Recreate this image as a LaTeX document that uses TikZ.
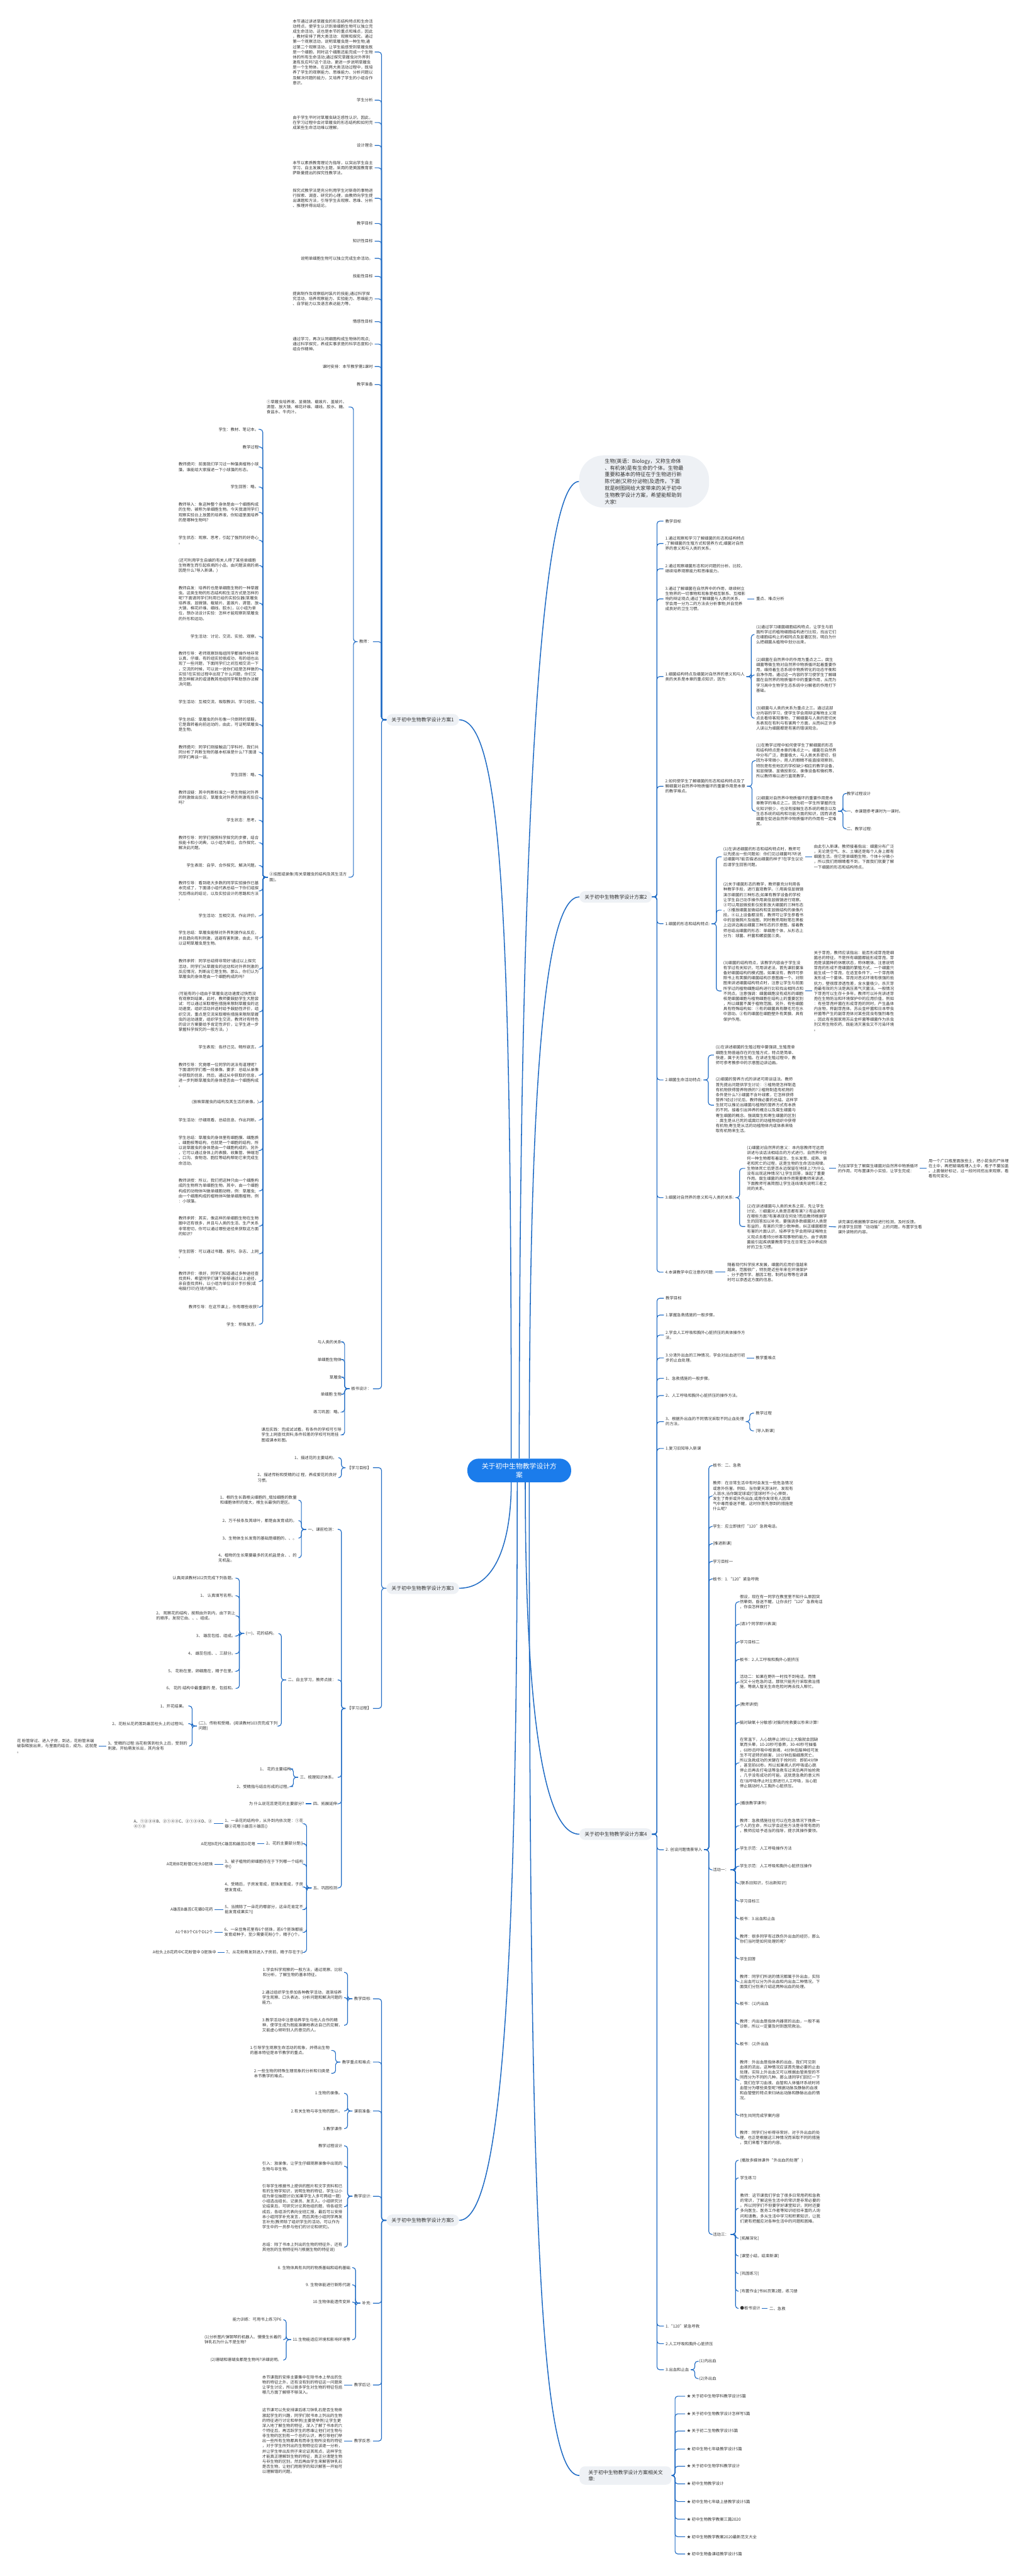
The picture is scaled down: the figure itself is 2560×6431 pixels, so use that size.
\documentclass[tikz,border=0pt]{standalone}
\usepackage{fontspec}
\setmainfont{Noto Sans CJK SC}
\definecolor{ink}{HTML}{333333}
\definecolor{linkblue}{HTML}{1F6BC4}
\definecolor{pill}{HTML}{EEF1F5}
\definecolor{rootblue}{HTML}{1B7CEB}

\begin{document}
\begin{tikzpicture}[x=0.5pt, y=-0.5pt,
  root/.style={rectangle, rounded corners=14pt, fill=rootblue, text=white, align=center,
    font=\fontsize{8.5pt}{10.5pt}\selectfont, minimum width=129.5pt, minimum height=29.5pt},
  intro/.style={rectangle, rounded corners=30pt, fill=pill, text=ink, align=left, anchor=west,
    font=\fontsize{6.4pt}{8.5pt}\selectfont, inner xsep=32pt, inner ysep=4pt},
  branch/.style={rectangle, rounded corners=7pt, fill=pill, text=ink, align=left,
    font=\fontsize{6.2pt}{7.6pt}\selectfont, inner xsep=6.3pt, minimum height=14.5pt},
  note/.style={text=ink, align=left, font=\fontsize{5pt}{6.4pt}\selectfont, inner xsep=2pt, inner ysep=0pt},
  lt/.style={note, anchor=east},
  rt/.style={note, anchor=west},
  link/.style={draw=linkblue, line width=0.9pt, rounded corners=3.5pt},
  trunk/.style={draw=linkblue, line width=1.2pt}
]
\useasboundingbox (0,0) rectangle (2560,6431);

  % Root and intro
  \node[root] (root) at (1296,3671) {关于初中生物教学设计方\\案};
  \node[intro] (intro) at (1445,1202) {生物(英语：Biology，又称生命体\\、有机体)是有生命的个体。生物最\\重要和基本的特征在于生物进行新\\陈代谢(又称分泌物)及遗传。下面\\就是树图网给大家带来的关于初中\\生物教学设计方案，希望能帮助到\\大家!};

  % Branches
  \node[branch, anchor=east] (b1) at (1146,1797) {关于初中生物教学设计方案1};
  \node[branch, anchor=west] (b2) at (1446,2239) {关于初中生物教学设计方案2};
  \node[branch, anchor=east] (b3) at (1146,3965) {关于初中生物教学设计方案3};
  \node[branch, anchor=west] (b4) at (1446,4579) {关于初中生物教学设计方案4};
  \node[branch, anchor=east] (b5) at (1146,5543) {关于初中生物教学设计方案5};
  \node[branch, anchor=west, inner xsep=11pt, minimum height=23pt] (b6) at (1446,6180) {关于初中生物教学设计方案相关文\\章:};

  % Branch 1
  \node[lt] (a1) at (935,130) {本节通过讲述草履虫的形态结构特点和生命活\\动特点，使学生认识到单细胞生物可以独立完\\成生命活动，这也是本节的重点和难点，因此\\，教材安排了两大类活动：观察和探究。通过\\第一个观察活动，说明草履虫是一种生物;通\\过第二个观察活动，让学生能感受到草履虫既\\是一个细胞，同时这个细胞还能完成一个生物\\体的所有生命活动;通过探究草履虫对外界刺\\激有反应吗?这个活动，更进一步说明草履虫\\是一个生物体。在这两大类活动过程中，既培\\养了学生的观察能力、思维能力、分析问题以\\及解决问题的能力，又培养了学生的小组合作\\意识。};
  \node[lt] (a2) at (935,250) {学生分析};
  \node[lt] (a3) at (935,306) {由于学生平时对草履虫缺乏感性认识，因此，\\在学习过程中会对草履虫的形态结构和如何完\\成某些生命活动难以理解。};
  \node[lt] (a4) at (935,363) {设计理念};
  \node[lt] (a5) at (935,419) {本节以素质教育理论为指导，以突出学生自主\\学习、自主发展为主题，采用的是美国教育家\\萨斯曼提出的探究性教学法。};
  \node[lt] (a6) at (935,495) {探究式教学法是充分利用学生对新奇的事物进\\行探索、调查、研究的心理，由教师向学生提\\出课题和方法，引导学生去观察、思维、分析\\、推理并得出结论。};
  \node[lt] (a7) at (935,558) {教学目标};
  \node[lt] (a8) at (935,602) {知识性目标};
  \node[lt] (a9) at (935,645) {说明单细胞生物可以独立完成生命活动。};
  \node[lt] (a10) at (935,690) {技能性目标};
  \node[lt] (a11) at (935,746) {提高制作及观察临时装片的技能;通过科学探\\究活动，培养观察能力、实验能力、思维能力\\、自学能力以及语言表达能力等。};
  \node[lt] (a12) at (935,803) {情感性目标};
  \node[lt] (a13) at (935,859) {通过学习，再次认同细胞构成生物体的观点;\\通过科学探究，养成实事求是的科学态度和小\\组合作精神。};
  \node[lt] (a14) at (935,915) {课时安排：本节教学需1课时};
  \node[lt] (a15) at (935,960) {教学准备};
  \node[lt] (a16) at (931,1602) {教师：};
  \node[lt] (a17) at (931,3467) {板书设计：};

  \node[lt] (c1) at (870,1016) {①草履虫培养液、显微镜、载玻片、盖玻片、\\滴管、放大镜、棉花纤维、细线、胶水、糖、\\食盐水、牛肉汁。};
  \node[lt] (c2) at (870,2190) {②挂图或录像(有关草履虫的结构及其生活方\\面)。};

  \node[lt] (d1) at (650,1072) {学生：教材、笔记本。};
  \node[lt] (d2) at (650,1116) {教学过程};
  \node[lt] (d3) at (650,1166) {教师提问：前面我们学习过一种藻类植物小球\\藻，谁能给大家描述一下小球藻的形态。};
  \node[lt] (d4) at (650,1216) {学生回答：略。};
  \node[lt] (d5) at (650,1279) {教师导入：象这种整个身体是由一个细胞构成\\的生物，被称为单细胞生物。今天我请同学们\\观察实验台上放置的培养液，你知道里面培养\\的是哪种生物吗?};
  \node[lt] (d6) at (650,1349) {学生状态：观察、思考，引起了强烈的好奇心\\。};
  \node[lt] (d7) at (650,1412) {(还可利用学生自编的有关人得了某些单细胞\\生物寄生而引起疾病的小品，由问题该病的病\\因是什么?导入新课。)};
  \node[lt] (d8) at (650,1506) {教师启发：培养的也是单细胞生物的一种草履\\虫。这类生物的形态结构和生活方式是怎样的\\呢?下面请同学们利用已给的实验仪器(草履虫\\培养液、显微镜、载玻片、盖玻片、滴管、放\\大镜、棉花纤维、细线、胶水)，以小组为单\\位，想办法设计实验：怎样才能观察到草履虫\\的外形和运动。};
  \node[lt] (d9) at (650,1589) {学生活动：讨论、交流、实验、观察。};
  \node[lt] (d10) at (650,1670) {教师引导：老师观察到每组同学都操作地非常\\认真、仔细，有的组实验很成功，有的组也出\\现了一些问题，下面同学们之间互相交流一下\\，交流的时候，可以说一说你们组是怎样做的\\实验?在实验过程中出现了什么问题，你们又\\是怎样解决的或请教其他组同学帮助想办法解\\决问题。};
  \node[lt] (d11) at (650,1752) {学生活动：互相交流、吸取教训、学习经验。};
  \node[lt] (d12) at (650,1809) {学生总结：草履虫的外形像一只倒转的草鞋，\\它是靠转着向前运动的，由此，可证明草履虫\\是生物。};
  \node[lt] (d13) at (650,1878) {教师提问：同学们刚接触这门学科时，我们共\\同分析了判断生物的基本标准是什么?下面请\\同学们再谈一谈。};
  \node[lt] (d14) at (650,1934) {学生回答：略。};
  \node[lt] (d15) at (650,1991) {教师设疑：其中判断标准之一是生物能对外界\\的刺激做出反应，草履虫对外界的刺激有反应\\吗?};
  \node[lt] (d16) at (650,2048) {学生状态：思考。};
  \node[lt] (d17) at (650,2104) {教师引导：同学们按照科学探究的步骤，结合\\技能卡和小词典，以小组为单位，合作探究、\\解决此问题。};
  \node[lt] (d18) at (650,2161) {学生表现：自学、合作探究、解决问题。};
  \node[lt] (d19) at (650,2224) {教师引导：看到绝大多数的同学实验操作已基\\本完成了，下面请小组代表总结一下你们组探\\究后得出的结论，以及实验设计的思路和方法\\。};
  \node[lt] (d20) at (650,2286) {学生活动：互相交流、作出评价。};
  \node[lt] (d21) at (650,2342) {学生总结：草履虫能够对外界刺激作出反应，\\并且趋向有利刺激，逃避有害刺激，由此，可\\以证明草履虫是生物。};
  \node[lt] (d22) at (650,2419) {教师承转：同学总结得非常好!通过以上探究\\活动，同学们从草履虫的运动和对外界刺激的\\反应情况，判断出它是生物。那么，你们认为\\草履虫的身体是由一个细胞构成的吗?};
  \node[lt] (d23) at (650,2526) {(可能有的小组由于草履虫运动速度过快而没\\有观察到结果，此时，教师要鼓励学生大胆尝\\试：可以通过采取哪些措施来限制草履虫的运\\动速度。组织活动并适时给予鼓励性评价，组\\织交流，重点是交流采取哪些措施来限制草履\\虫的运动速度，组织学生交流，教师对有特色\\的设计方案要给予肯定性评价，让学生进一步\\掌握科学探究的一般方法。)};
  \node[lt] (d24) at (650,2614) {学生表现：各抒己见、畅所欲言。};
  \node[lt] (d25) at (650,2684) {教师引导：究竟哪一位同学的说法有道理呢?\\下面请同学们看一段录像。要求：总结从录像\\中获取的信息，然后，通过从中获取的信息，\\进一步判断草履虫的身体是否由一个细胞构成\\。};
  \node[lt] (d26) at (650,2752) {(放映草履虫的结构及其生活的录像。)};
  \node[lt] (d27) at (650,2796) {学生活动：仔细观看、总结信息、作出判断。};
  \node[lt] (d28) at (650,2872) {学生总结：草履虫的身体里有细胞膜、细胞质\\、细胞核等结构，也就是一个细胞的结构，所\\以说草履虫的身体是由一个细胞构成的。另外\\，它可以通过身体上的表膜、收集管、伸缩泡\\、口沟、食物泡、胞肛等结构帮助它来完成生\\命活动。};
  \node[lt] (d29) at (650,2973) {教师讲授：所以，我们把这种只由一个细胞构\\成的生物称为单细胞生物。其中，由一个细胞\\构成的动物体叫做单细胞动物，例：草履虫;\\由一个细胞构成的植物体叫做单细胞植物，例\\：小球藻。};
  \node[lt] (d30) at (650,3061) {教师承转：其实，像这样的单细胞生物在生物\\圈中还有很多，并且与人类的生活、生产关系\\非常密切，你可以通过哪些途径来获取这方面\\的知识?};
  \node[lt] (d31) at (650,3130) {学生回答：可以通过书籍、报刊、杂志、上网\\。};
  \node[lt] (d32) at (650,3199) {教师评价：很好，同学们知道通过多种途径查\\找资料，希望同学们课下能够通过以上途径，\\亲自查找资料，以小组为单位设计手抄报(或\\电脑打印)在班内展示。};
  \node[lt] (d33) at (650,3263) {教师引导：在这节课上，你有哪些收获?};
  \node[lt] (d34) at (650,3306) {学生：积极发言。};

  \node[lt] (e1) at (857,3350) {与人类的关系};
  \node[lt] (e2) at (857,3394) {单细胞生物体};
  \node[lt] (e3) at (857,3438) {草履虫};
  \node[lt] (e4) at (857,3481) {单细胞 生物};
  \node[lt] (e5) at (857,3525) {练习巩固：略。};
  \node[lt] (e6) at (857,3582) {课后实践：完成试试看。有条件的学校可引导\\学生上网查找资料;条件较差的学校可利用挂\\图或课本彩图。};

  % Branch 3
  \node[lt] (f1) at (931,3664) {【学习目标】};
  \node[lt] (f2) at (931,4265) {【学习过程】};
  \node[lt] (g1) at (845,3639) {1、描述花的主要结构。};
  \node[lt] (g2) at (845,3689) {2、描述传粉和受精的过 程，养成爱花的良好\\习惯。};
  \node[lt] (h1) at (843,3818) {一、课前检测：};
  \node[lt] (h2) at (843,4194) {二、自主学习，教师点拨：};
  \node[lt] (h3) at (843,4437) {三、梳理知识体系。};
  \node[lt] (h4) at (846,4503) {四、拓展延伸};
  \node[lt] (h5) at (846,4713) {五、巩固检测};
  \node[lt] (i1) at (745,3745) {1、根的生长靠根尖细胞的\_增加细胞的数量\\和细胞体积的增大，根生长最快的是区。};
  \node[lt] (i2) at (745,3796) {2、万千枝条及其绿叶，都是由发育成的。};
  \node[lt] (i3) at (745,3840) {3、生物体生长发育的基础是细胞的、、。};
  \node[lt] (i4) at (745,3889) {4、植物的生长需要最多的无机盐是含、、的\\无机盐。};
  \node[lt] (j1) at (695,4078) {(一)、花的结构。};
  \node[lt] (j2) at (697,4309) {(二)、传粉和受精。(阅读教材103页完成下列\\问题)};
  \node[lt] (k1) at (592,3940) {认真阅读教材102页完成下列各题。};
  \node[lt] (k2) at (592,3984) {1、 认真填写名称。};
  \node[lt] (k3) at (592,4034) {2、 观察花的结构，按照由外到内，由下到上\\的顺序，发现它由、、、组成。};
  \node[lt] (k4) at (592,4084) {3、 雄蕊包括、组成。};
  \node[lt] (k5) at (592,4128) {4、 雌蕊包括、、三部分。};
  \node[lt] (k6) at (592,4172) {5、 花粉在里，卵细胞在，精子在里。};
  \node[lt] (k7) at (592,4215) {6、 花的 结构中最重要的 是，包括和。};
  \node[lt] (l1) at (470,4259) {1、开花结果。};
  \node[lt] (l2) at (470,4303) {2、花粉从花药落到雌蕊柱头上的过程叫。};
  \node[lt] (l3) at (472,4359) {3、受精的过程:当花粉落到柱头上后，受到的\\刺激，开始萌发长出，其内含有};
  \node[lt] (m1) at (247,4359) {花 粉管穿过、进入子房，到达，花粉管末端\\破裂释放出来，与里面的结合，成为。这就是\\。};
  \node[lt] (n1) at (731,4416) {1、 花的主要结构};
  \node[lt] (n2) at (731,4460) {2、受精指与结合形成的过程。};
  \node[lt] (o1) at (763,4503) {为 什么说花蕊是花的主要部分?};
  \node[lt] (p1) at (761,4553) {1、一朵花的结构中，从外到内依次是：①花\\瓣②花萼③雌蕊④雄蕊()};
  \node[lt] (p2) at (761,4603) {2、花的主要部分是()};
  \node[lt] (p3) at (761,4654) {3、被子植物的卵细胞存在于下列哪一个结构\\中()};
  \node[lt] (p4) at (761,4711) {4、受精后，子房发育成，胚珠发育成，子房\\壁发育成。};
  \node[lt] (p5) at (761,4767) {5、当摘除了一朵花的哪部分，这朵花肯定不\\能发育成果实?()};
  \node[lt] (p6) at (761,4824) {6、一朵豆角花里有6个胚珠，若6个胚珠都能\\发育成种子，至少需要花粉()个，精子()个。};
  \node[lt] (p7) at (761,4874) {7、从花粉萌发到进入子房前，精子存在于()};
  \node[lt] (q1) at (534,4553) {A、①②③④B、②①④③C、②①③④D、②\\④①③};
  \node[lt] (q2) at (642,4603) {A花冠B花托C雄蕊和雌蕊D花萼};
  \node[lt] (q3) at (536,4654) {A花粉B花粉管C柱头D胚珠};
  \node[lt] (q5) at (536,4767) {A雄蕊B雌蕊C花瓣D花药};
  \node[lt] (q6) at (536,4824) {A1个B3个C6个D12个};
  \node[lt] (q7) at (544,4874) {A柱头上B花药中C花粉管中 D胚珠中};

  % Branch 5
  \node[lt] (r1) at (931,4990) {教学目标:};
  \node[lt] (r2) at (931,5148) {教学重点和难点:};
  \node[lt] (r3) at (931,5270) {课前准备:};
  \node[lt] (r4) at (931,5483) {教学设计:};
  \node[lt] (r5) at (931,5750) {补充:};
  \node[lt] (r6) at (931,5954) {教学后记:};
  \node[lt] (r7) at (931,6094) {教学反思:};
  \node[lt] (s1) at (859,4924) {1.学会科学观察的一般方法，通过观察、比较\\和分析，了解生物的基本特征。};
  \node[lt] (s2) at (859,4987) {2.通过组织学生参加各种教学活动，逐渐培养\\学生观察、口头表达、分析问题和解决问题的\\能力。};
  \node[lt] (s3) at (859,5056) {3.教学活动中注意培养学生与他人合作的精\\神，使学生成为既能准确地表达自己的见解，\\又能虚心倾听别人的意见的人。};
  \node[lt] (t1) at (827,5119) {1.引导学生观察生命活动的现象，并得出生物\\的基本特征是本节教学的重点。};
  \node[lt] (t2) at (827,5176) {2.一些生物的特殊生理现象的分析和归类是\\本节教学的难点。};
  \node[lt] (u1) at (859,5226) {1.生物的录像。};
  \node[lt] (u2) at (859,5270) {2.有关生物与非生物的图片。};
  \node[lt] (u3) at (859,5314) {3.教学课件};
  \node[lt] (v1) at (859,5357) {教学过程设计};
  \node[lt] (v2) at (859,5408) {引入：放录像，让学生仔细观察录像中出现的\\生物与非生物。};
  \node[lt] (v3) at (859,5509) {引导学生根据书上提供的图片和文字资料和已\\有的生物学知识，说明生物的特征，学生以小\\组为单位抽题讨论(如果学生人多可两组一题)\\小组选出组长、记录员、发言人。小组研究讨\\论结束后，可研究讨论其他组的题，待各组完\\成后，各组派代表向全班汇报，最后可以安排\\本小组同学补充发言，而后其他小组同学再发\\言补充(教师除了组织学生的活动，可以作为\\学生中的一员参与他们的讨论和研究)。};
  \node[lt] (v4) at (859,5610) {总结：除了书本上列出的生物的特征外，还有\\其他别的生物特征吗?(根据生物的特征说)};
  \node[lt] (w1) at (879,5661) {8. 生物体具有共同的物质基础和结构基础};
  \node[lt] (w2) at (879,5704) {9. 生物体能进行新陈代谢};
  \node[lt] (w3) at (879,5747) {10.生物体能遗传变异};
  \node[lt] (w4) at (879,5841) {11.生物能适应环境和影响环境等};
  \node[lt] (x1) at (707,5791) {能力训练：可用书上练习P6};
  \node[lt] (x2) at (707,5841) {(1)分析图片弹钢琴的机器人、慢慢生长着的\\钟乳石为什么不是生物?};
  \node[lt] (x3) at (707,5892) {(2)珊瑚和珊瑚虫都是生物吗?详细说明。};
  \node[lt] (y1) at (859,5954) {本节课我的安排主要集中在除书本上举出的生\\物的特征之外，还有没有别的特征这一问题来\\让学生讨论，所以很多学生对生物的特征包括\\哪几方面了解得不够深入。};
  \node[lt] (y2) at (859,6094) {这节课可以先安排课后练习钟乳石是否生物来\\激起学生的兴趣，同学们就书本上列出的生物\\的特征进行讨论和举例(主要是举例)让学生更\\深入地了解生物的特征，深入了解了书本的六\\个特征后，再活跃学生的思维让他们对生物与\\非生物的区别有一个总的认识，再引导他们举\\出一些所有生物都具有而非生物所没有的特征\\，对于学生所列出的生物特征应该逐一分析，\\并让学生举出反例子来论证其观点，这样学生\\才能真正理解到生物的特征，真正分清楚生物\\与非生物的区别。然后再由学生来解答钟乳石\\是否生物，让他们用刚学的知识解答一开始可\\以理解错的问题。};

  % Branch 2
  \node[rt] (B1) at (1656,1301) {教学目标};
  \node[rt] (B2) at (1656,1357) {1.通过观察和学习了解细菌的形态和结构特点\\,了解细菌的生殖方式和营养方式;细菌对自然\\界的意义和与人类的关系。};
  \node[rt] (B3) at (1656,1420) {2.通过观察细菌形态和对问题的分析、比较，\\继续培养观察能力和思维能力。};
  \node[rt] (B4) at (1656,1495) {3.通过了解细菌在自然界中的作用，继续树立\\生物界的一切事物和现象是相互联系、互相影\\响的辩证观点;通过了解细菌与人类的关系，\\学会用一分为二的方法去分析事物;并自觉养\\成良好的卫生习惯。};
  \node[rt] (B5) at (1656,1689) {1.细菌结构特点及细菌对自然界的意义和与人\\类的关系是本章的重点知识，因为:};
  \node[rt] (B6) at (1656,1963) {2.如何使学生了解细菌的形态和结构特点及了\\解细菌对自然界中物质循环的重要作用是本章\\的教学难点。};
  \node[rt] (B7) at (1656,2306) {1.细菌的形态和结构特点:};
  \node[rt] (B8) at (1656,2696) {2.细菌生命活动特点:};
  \node[rt] (B9) at (1656,2990) {3.细菌对自然界的意义和与人类的关系:};
  \node[rt] (B10) at (1656,3176) {4.本课教学中应注意的问题:};
  \node[rt] (C1) at (1883,1495) {重点、难点分析};
  \node[rt] (C2) at (1883,1584) {(1)通过学习细菌细胞结构特点，让学生与前\\面所学过的植物细胞结构进行比较，找出它们\\在细胞结构上的相同点及显著区别，明白为什\\么把细菌从植物中划分出来。};
  \node[rt] (C3) at (1883,1685) {(2)细菌在自然界中的作用为重点之二。腐生\\细菌等微生物对自然界中物质循环起着重要作\\用，维持着生态系统中物质转化的动态平衡和\\自净作用。通过这一内容的学习使学生了解细\\菌在自然界的物质循环中的重要作用，从而为\\学习高中生物学生态系统中分解者的作用打下\\基础。};
  \node[rt] (C4) at (1883,1793) {(3)细菌与人类的关系为重点之三。通过这部\\分内容的学习，使学生学会用辩证唯物主义观\\点去看待客观事物，了解细菌与人类的密切关\\系表现在有利与有害两个方面，从而纠正许多\\人误以为细菌都是有害的错误观念。};
  \node[rt] (C5) at (1883,1899) {(1)在教学过程中如何使学生了解细菌的形态\\和结构特点是本章的难点之一。细菌在自然界\\中分布广泛，数量极大，与人类关系密切，但\\因为非常微小，用人的眼睛不能直接观察到，\\特别是有些地区的学校缺少相应的教学设备，\\如显微镜、显微投影仪、录像设备和微机等，\\所以教师难以进行直观教学。};
  \node[rt] (C6) at (1883,2025) {(2)细菌对自然界中物质循环的重要作用是本\\章教学的难点之二。因为初一学生所掌握的生\\化知识很少，也没有接触生态系统的概念以及\\生态系统的结构和功能方面的知识，因而讲透\\细菌在促进自然界中物质循环的作用有一定难\\度。};
  \node[rt] (D1) at (2109,1981) {教学过程设计};
  \node[rt] (D2) at (2109,2025) {一、本课题参考课时为一课时。};
  \node[rt] (D3) at (2109,2069) {二、教学过程:};
  \node[rt] (C7) at (1801,2139) {(1)在讲述细菌的形态和结构特点时，教师可\\以先提出一些问题如：你们见过细菌吗?听说\\过细菌吗?能否描述出细菌的样子?在学生议论\\后请学生回答问题。};
  \node[rt] (C8) at (1801,2272) {(2)关于细菌形态的教学，教师要充分利用各\\种教学手段，进行直观教学。①用高倍显微镜\\演示细菌的三种形态;如果有教学设备的学校\\让学生自己动手操作用高倍显微镜进行观察。\\②可以用显微投影仪投影放大细菌的三种形态\\。③播放细菌显微结构和亚显微结构的录像片\\段。④以上设备都没有，教师可让学生参看书\\中的显微照片及插图，同时教师用粉笔在黑板\\上边讲边画出细菌三种形态的示意图。接着教\\师总结出细菌的形态：单细胞个体，从形态上\\分为：球菌、杆菌和螺旋菌三类。};
  \node[rt] (C9) at (1801,2474) {(3)细菌的结构特点，该教学内容由于学生没\\有学过有关知识，可用讲述法。首先课前要准\\备好细菌结构的模式图。如果没有，教师可参\\照书上有荚膜的细菌结构示意图画一个。对照\\图来讲述细菌结构特点时，注意让学生与前面\\所学过的植物细胞结构进行比较找出相同点和\\不同点。注意强调：细菌细胞没有成形的细胞\\核是细菌细胞与植物细胞在结构上的重要区别\\，所以细菌不属于植物范围。另外，有些细菌\\具有特殊结构如：①有的细菌具有鞭毛可在水\\中游动。②有的细菌在细胞壁外有荚膜、具有\\保护作用。};
  \node[rt] (D4) at (2027,2139) {由此引入新课。教师接着指出：细菌分布广泛\\，无论是空气、水、土壤还是每个人身上都有\\细菌生活。但它是单细胞生物，个体十分微小\\，所以我们用眼睛看不到，下面我们就要了解\\一下细菌的形态和结构特点。};
  \node[rt] (D5) at (2027,2474) {关于芽孢，教师应该指出：能否形成芽孢是细\\菌总的特征。不是所有细菌都能形成芽孢。芽\\孢是该菌种的休眠状态，称休眠体。注意说明\\芽孢的形成不是细菌的繁殖方式，一个细菌只\\能生成一个芽孢，在适宜条件下，一个芽孢萌\\发形成一个菌体。芽孢对恶劣环境有很强的抵\\抗力，壁很厚渗透性差，含水量极少。杀灭芽\\孢最有效的方法是高压蒸气灭菌法。一般情况\\下芽孢可以生存十多年。教师可以补充讲述芽\\孢在生物防治和环境保护中的应用价值，例如\\：有些芽孢杆菌在形成芽孢的同时，产生晶体\\内含物，称副芽孢体。苏云金杆菌和日本甲虫\\杆菌等产生的副芽孢体对某些昆虫有强烈毒性\\，因此有些国家用苏云金杆菌等细菌作为杀虫\\剂又称生物农药，既能消灭害虫又不污染环境\\。};
  \node[rt] (C10) at (1782,2634) {(1)在讲述细菌的生殖过程中要强调\_生殖是单\\细胞生物普遍存在的生殖方式，特点是简单、\\快速，属于无性生殖。在讲述生殖过程中，教\\师可参考教参中的示意图边讲边画。};
  \node[rt] (C11) at (1782,2759) {(2)细菌的营养方式的讲述可用谈话法。教师\\首先提出问题供学生讨论：①植物是怎样制造\\有机物获得营养物质的?②植物制造有机物的\\条件是什么?③细菌不含叶绿素，它怎样获得\\营养?经过讨论后，教师做必要的总结。这样学\\生就可以推论出细菌与植物的营养方式有本质\\的不同。接着引出异养的概念以及腐生细菌与\\寄生细菌的概念。强调腐生和寄生细菌的区别\\：腐生是从已死的或腐烂的动植物组织中获得\\有机物;寄生是从活的动植物体内或体表来吸\\取有机物来生活。};
  \node[rt] (C12) at (1860,2917) {(1)细菌对自然界的意义：本内容教师可运用\\讲述与谈话法相结合的方式进行。自然界中任\\何一种生物都有着诞生、生长发育、成熟、衰\\老和死亡的过程，这是生物的生命活动规律。\\生物体死亡后是否永远保留在地球上?为什么\\没有出现这种情况?让学生回答，谁起了重要\\作用。腐生细菌的具体作用需要教师来讲述。\\下面教师可画简图让学生连线填充说明三者之\\间的关系。};
  \node[rt] (C13) at (1860,3062) {(2)在讲述细菌与人类的关系之前，先让学生\\讨论，①细菌对人类是否都有害?②有益表现\\在哪些方面?有害表现在何处?而后教师根据学\\生的回答加以补充，要强调多数细菌对人类是\\有益的，有害的只是少数种类。纠正细菌都是\\有害的片面认识，培养学生学会用辩证唯物主\\义观点去看待分析客观事物的能力。由于病原\\菌能引起疾病要教育学生在日常生活中养成良\\好的卫生习惯。};
  \node[rt] (D6) at (2087,2917) {为加深学生了解腐生细菌对自然界中物质循环\\的作用，可布置课外小实验，让学生完成：};
  \node[rt] (E1) at (2313,2917) {用一个广口瓶里面放些土，把小昆虫的尸体埋\\在土中，再把玻璃瓶埋入土中，瓶子不要加盖\\。上面做好标记，过一段时间挖出来观察，看\\看有何变化。};
  \node[rt] (D7) at (2087,3063) {讲完课后根据教学目标进行检测，及时反馈。\\并请学生回答“动动脑”上的问题。布置学生看\\课外读物的内容。};
  \node[rt] (C14) at (1811,3176) {随着现代科学技术发展，细菌的应用价值越来\\越高，范围很广，特别是近些年来在环境保护\\、分子遗传学、基因工程、制药业等等在讲课\\时可以渗透这方面的信息。};

  % Branch 4
  \node[rt] (F1) at (1657,3241) {教学目标};
  \node[rt] (F2) at (1657,3283) {1.掌握急救措施的一般步骤。};
  \node[rt] (F3) at (1657,3333) {2.学会人工呼吸和胸外心脏挤压的具体操作方\\法。};
  \node[rt] (F4) at (1657,3390) {3.分清外出血的三种情况，学会对出血进行初\\步的止血处理。};
  \node[rt] (F5) at (1657,3441) {1、急救措施的一般步骤。};
  \node[rt] (F6) at (1657,3484) {2、人工呼吸和胸外心脏挤压的操作方法。};
  \node[rt] (F7) at (1657,3549) {3、根据外出血的不同情况采取不同止血处理\\的方法。};
  \node[rt] (F8) at (1657,3616) {1.复习旧知导入新课};
  \node[rt] (F9) at (1657,4618) {2. 创设问题情景导入};
  \node[rt] (F10) at (1657,5807) {1.“120”紧急呼救};
  \node[rt] (F11) at (1657,5851) {2.人工呼吸和胸外心脏挤压};
  \node[rt] (F12) at (1657,5916) {3.出血和止血};
  \node[rt] (G1) at (1882,3390) {教学重难点};
  \node[rt] (G2) at (1882,3528) {教学过程};
  \node[rt] (G3) at (1882,3572) {[导入新课]};
  \node[rt] (G4) at (1741,5895) {(1)内出血};
  \node[rt] (G5) at (1741,5938) {(2)外出血};
  \node[rt] (H1) at (1775,3659) {板书：二、急救};
  \node[rt] (H2) at (1775,3735) {教师：在日常生活中有时会发生一些危急情况\\或意外伤害。例如，当你夏天游泳时，发现有\\人溺水;当你踢足球或打篮球时不小心摔倒，\\发生了骨折或外伤出血;或是你发现有人因煤\\气中毒而昏迷不醒，这时你首先想到的措施是\\什么呢?};
  \node[rt] (H3) at (1775,3811) {学生：应立即拨打“120”急救电话。};
  \node[rt] (H4) at (1775,3854) {[推进新课]};
  \node[rt] (H5) at (1775,3898) {学习目标一};
  \node[rt] (H6) at (1775,3942) {板书：1.“120”紧急呼救};
  \node[rt] (H7) at (1775,4668) {活动一：};
  \node[rt] (H8) at (1775,5578) {活动三：};
  \node[rt] (I1) at (1842,3999) {假设，现在有一同学在教室里不知什么原因突\\然晕倒，昏迷不醒，让你去打“120”急救电话\\，你会怎样拨打?};
  \node[rt] (I2) at (1842,4055) {(请3个同学即兴表演)};
  \node[rt] (I3) at (1842,4099) {学习目标二};
  \node[rt] (I4) at (1842,4143) {板书：2.人工呼吸和胸外心脏挤压};
  \node[rt] (I5) at (1842,4199) {活动二：如果在野外一时找不到电话，而情\\况又十分危急的话，那就只能先行采取救治措\\施，等病人暂无生命危险时再去找人帮忙。};
  \node[rt] (I6) at (1842,4256) {(教师讲授)};
  \node[rt] (I7) at (1842,4300) {脑对缺氧十分敏感!对脑的抢救要以秒来计算!};
  \node[rt] (I8) at (1842,4401) {在常温下，人心跳停止3秒以上大脑就会因缺\\氧而头晕，10-20秒可昏厥，30-40秒可抽搐\\，60秒后呼吸中枢衰竭，4分钟后脑神经可发\\生不可逆转的损害，10分钟后脑细胞死亡。\\所以急救成功的关键在于抢时间：即前4分钟\\，甚至前60秒。所以如果病人的呼吸或心跳\\停止后再去打电话等急救车过来后再开始抢救\\，几乎没有成功的可能。这就是急救的意义所\\在!当呼吸停止时立即进行人工呼吸，当心脏\\停止跳动时人工胸外心脏挤压。};
  \node[rt] (I9) at (1842,4502) {(播放教学课件)};
  \node[rt] (I10) at (1842,4558) {教师：急救措施往往可以在危急情况下挽救一\\个人的生命，所以学会这些方法是非常有用的\\，教师应给予适当的指导，提示其操作要领。};
  \node[rt] (I11) at (1842,4615) {学生示范：人工呼吸操作方法};
  \node[rt] (I12) at (1842,4659) {学生示范：人工呼吸和胸外心脏挤压操作};
  \node[rt] (I13) at (1842,4702) {[联系旧知识，引出新知识]};
  \node[rt] (I14) at (1842,4746) {学习目标三};
  \node[rt] (I15) at (1842,4790) {板书：3.出血和止血};
  \node[rt] (I16) at (1842,4841) {教师：很多同学有过跌伤外出血的经历，那么\\你们当时是如何处理的呢?};
  \node[rt] (I17) at (1842,4890) {学生回答};
  \node[rt] (I18) at (1842,4947) {教师：同学们所说的情况都属于外出血，实际\\上出血可以分为外出血和内出血二种情况。下\\面我们分别来介绍这两种出血的处理。};
  \node[rt] (I19) at (1842,5003) {板书：(1)内出血};
  \node[rt] (I20) at (1842,5053) {教师：内出血是指体内器官的出血，一般不易\\诊断，所以一定要及时到医院救治。};
  \node[rt] (I21) at (1842,5104) {板书：(2)外出血};
  \node[rt] (I22) at (1842,5193) {教师：外出血是指体表的出血，我们可见到\\血液的流出。这种情况应该首先做必要的止血\\处理。实际上外出血又可以根据血管类型的不\\同而分为不同的几种。那么请同学们回忆一下\\，我们在学习血液、血管和人体循环系统时将\\血管分为哪些类型呢?根据动脉及静脉的血液\\和血管壁的特点来归纳出动脉和静脉出血的情\\况。};
  \node[rt] (I23) at (1842,5281) {师生共同完成学案内容};
  \node[rt] (I24) at (1842,5337) {教师：同学们分析得非常好。对于外出血的处\\理，也正是根据这三种情况而采取不同的措施\\，我们来看下面的内容。};
  \node[rt] (J1) at (1843,5393) {(播放多媒体课件“外出血的处理”)};
  \node[rt] (J2) at (1843,5437) {学生练习};
  \node[rt] (J3) at (1843,5513) {教师：这节课我们学会了很多日常用药和急救\\的常识，了解这些生活中的常识是非常必要的\\。所以同学们不但要学好课堂知识，同时还要\\多向医生、医务工作者等知识经验丰富的人询\\问和请教，多从生活中学习和积累知识，让我\\们更有把握应对各种生活中的问题和困难。};
  \node[rt] (J4) at (1843,5588) {[拓展深化]};
  \node[rt] (J5) at (1843,5632) {[课堂小结，结束新课]};
  \node[rt] (J6) at (1843,5676) {[巩固练习]};
  \node[rt] (J7) at (1843,5720) {[布置作业]书86页第2题，练习册};
  \node[rt] (J8) at (1843,5763) {●板书设计};
  \node[rt] (K1) at (1916,5763) {二、急救};

  % Branch 6
  \node[rt] (L1) at (1710,5982) {★ 关于初中生物学科教学设计5篇};
  \node[rt] (L2) at (1710,6026) {★ 关于初中生物教学设计怎样写5篇};
  \node[rt] (L3) at (1710,6069) {★ 关于初二生物教学设计5篇};
  \node[rt] (L4) at (1710,6114) {★ 初中生物七年级教学设计5篇};
  \node[rt] (L5) at (1710,6157) {★ 关于初中生物学科教学设计};
  \node[rt] (L6) at (1710,6201) {★ 初中生物教学设计};
  \node[rt] (L7) at (1710,6245) {★ 初中生物七年级上册教学设计5篇};
  \node[rt] (L8) at (1710,6289) {★ 初中生物教学教案三篇2020};
  \node[rt] (L9) at (1710,6333) {★ 初中生物教学教案2020最新范文大全};
  \node[rt] (L10) at (1710,6376) {★ 初中生物备课组教学设计5篇};

  % Trunk curves
  \draw[trunk] (root.north) .. controls +(0,-1500) and +(-100,0) .. (intro.west);
  \draw[trunk] (root.north) ++(-20,0) .. controls +(0,-1300) and +(110,0) .. (b1.east);
  \draw[trunk] (root.north) ++(25,0) .. controls +(0,-900) and +(-90,0) .. (b2.west);
  \draw[trunk] (root.south) ++(-20,0) .. controls +(0,150) and +(90,0) .. (b3.east);
  \draw[trunk] (root.south) ++(15,0) .. controls +(0,500) and +(-100,0) .. (b4.west);
  \draw[trunk] (root.south) ++(-5,0) .. controls +(0,1300) and +(100,0) .. (b5.east);
  \draw[trunk] (root.south) ++(25,0) .. controls +(0,1800) and +(-100,0) .. (b6.west);

  % Links, left side
  \foreach \n in {a1,a2,a3,a4,a5,a6,a7,a8,a9,a10,a11,a12,a13,a14,a15,a16,a17}
    \draw[link] (b1.west) -- ++(-12,0) |- (\n.east);
  \foreach \n in {c1,c2} \draw[link] (a16.west) -- ++(-10,0) |- (\n.east);
  \foreach \i in {1,...,34} \draw[link] (c2.west) -- ++(-12,0) |- (d\i.east);
  \foreach \i in {1,...,6} \draw[link] (a17.west) -- ++(-12,0) |- (e\i.east);
  \foreach \n in {f1,f2} \draw[link] (b3.west) -- ++(-12,0) |- (\n.east);
  \foreach \n in {g1,g2} \draw[link] (f1.west) -- ++(-10,0) |- (\n.east);
  \foreach \n in {h1,h2,h3,h4,h5} \draw[link] (f2.west) -- ++(-10,0) |- (\n.east);
  \foreach \n in {i1,i2,i3,i4} \draw[link] (h1.west) -- ++(-12,0) |- (\n.east);
  \foreach \n in {j1,j2} \draw[link] (h2.west) -- ++(-12,0) |- (\n.east);
  \foreach \i in {1,...,7} \draw[link] (j1.west) -- ++(-12,0) |- (k\i.east);
  \foreach \n in {l1,l2,l3} \draw[link] (j2.west) -- ++(-12,0) |- (\n.east);
  \draw[link] (l3.west) -- (m1.east);
  \foreach \n in {n1,n2} \draw[link] (h3.west) -- ++(-12,0) |- (\n.east);
  \draw[link] (h4.west) -- (o1.east);
  \foreach \i in {1,...,7} \draw[link] (h5.west) -- ++(-12,0) |- (p\i.east);
  \foreach \i in {1,2,3,5,6,7} \draw[link] (p\i.west) -- (q\i.east);
  \foreach \i in {1,...,7} \draw[link] (b5.west) -- ++(-12,0) |- (r\i.east);
  \foreach \i in {1,2,3} \draw[link] (r1.west) -- ++(-12,0) |- (s\i.east);
  \foreach \i in {1,2} \draw[link] (r2.west) -- ++(-12,0) |- (t\i.east);
  \foreach \i in {1,2,3} \draw[link] (r3.west) -- ++(-12,0) |- (u\i.east);
  \foreach \i in {1,...,4} \draw[link] (r4.west) -- ++(-12,0) |- (v\i.east);
  \foreach \i in {1,...,4} \draw[link] (r5.west) -- ++(-12,0) |- (w\i.east);
  \foreach \i in {1,2,3} \draw[link] (w4.west) -- ++(-12,0) |- (x\i.east);
  \draw[link] (r6.west) -- (y1.east);
  \draw[link] (r7.west) -- (y2.east);

  % Links, right side
  \foreach \i in {1,...,10} \draw[link] (b2.east) -- ++(12,0) |- (B\i.west);
  \draw[link] (B4.east) -- (C1.west);
  \foreach \i in {2,3,4} \draw[link] (B5.east) -- ++(12,0) |- (C\i.west);
  \foreach \i in {5,6} \draw[link] (B6.east) -- ++(12,0) |- (C\i.west);
  \foreach \i in {1,2,3} \draw[link] (C6.east) -- ++(12,0) |- (D\i.west);
  \foreach \i in {7,8,9} \draw[link] (B7.east) -- ++(12,0) |- (C\i.west);
  \draw[link] (C7.east) -- (D4.west);
  \draw[link] (C9.east) -- (D5.west);
  \foreach \i in {10,11} \draw[link] (B8.east) -- ++(12,0) |- (C\i.west);
  \foreach \i in {12,13} \draw[link] (B9.east) -- ++(10,0) |- (C\i.west);
  \draw[link] (C12.east) -- (D6.west);
  \draw[link] (D6.east) -- (E1.west);
  \draw[link] (C13.east) -- (D7.west);
  \draw[link] (B10.east) -- (C14.west);
  \foreach \i in {1,...,12} \draw[link] (b4.east) -- ++(12,0) |- (F\i.west);
  \draw[link] (F4.east) -- (G1.west);
  \foreach \i in {2,3} \draw[link] (F7.east) -- ++(10,0) |- (G\i.west);
  \foreach \i in {4,5} \draw[link] (F12.east) -- ++(10,0) |- (G\i.west);
  \foreach \i in {1,...,8} \draw[link] (F9.east) -- ++(12,0) |- (H\i.west);
  \foreach \i in {1,...,24} \draw[link] (H7.east) -- ++(12,0) |- (I\i.west);
  \foreach \i in {1,...,8} \draw[link] (H8.east) -- ++(12,0) |- (J\i.west);
  \draw[link] (J8.east) -- (K1.west);
  \foreach \i in {1,...,10} \draw[link] (b6.east) -- ++(8,0) |- (L\i.west);

\end{tikzpicture}
\end{document}
